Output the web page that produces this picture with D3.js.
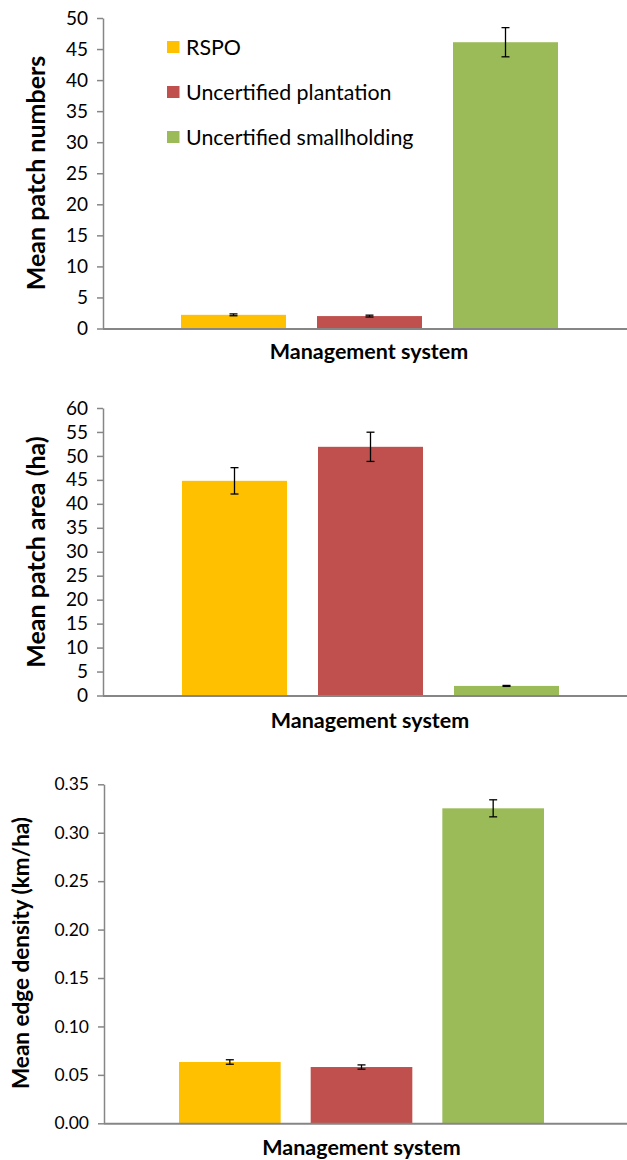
<!DOCTYPE html>
<html><head><meta charset="utf-8">
<script src="https://cdn.jsdelivr.net/npm/d3@7"></script>
<style>body{margin:0;background:#fff}svg{display:block}text{font-family:Lato,"Open Sans",sans-serif}</style>
</head><body>
<svg id="c" width="627" height="1160"></svg>
<script>
const categories = ["RSPO", "Uncertified plantation", "Uncertified smallholding"];
const colors = ["#FFC000", "#C0504D", "#9BBB59"];
const patchNumbers = [2.2, 2.0, 46.1];
const patchNumbersErr = [0.15, 0.15, 2.35];
const patchArea = [44.8, 51.9, 2.0];
const patchAreaErr = [2.75, 3.05, 0.1];
const edgeDensity = [0.0633, 0.0581, 0.3252];
const edgeDensityErr = [0.0023, 0.0022, 0.0088];
const ticks1 = [0,5,10,15,20,25,30,35,40,45,50];
const ticks2 = [0,5,10,15,20,25,30,35,40,45,50,55,60];
const ticks3 = [0,0.05,0.10,0.15,0.20,0.25,0.30,0.35];
const xTitle = "Management system";

const svg = d3.select("#c");

function panel(o){
  const g = svg.append("g");
  const x = d3.scaleBand().domain(categories).range(o.xr).paddingInner(0.228).paddingOuter(0);
  const y = d3.scaleLinear().domain(o.dom).range(o.yr);
  g.selectAll("rect.bar").data(categories).join("rect")
    .attr("x", d=>x(d)).attr("width", x.bandwidth())
    .attr("y", (d,i)=>y(o.vals[i])).attr("height",(d,i)=>y(0)-y(o.vals[i]))
    .attr("fill",(d,i)=>colors[i]);
  const eb = g.selectAll("g.eb").data(categories).join("g");
  eb.each(function(d,i){
    const cx = x(d)+x.bandwidth()/2;
    const e = d3.select(this);
    const hi = y(o.vals[i]+o.errs[i]), lo = y(o.vals[i]-o.errs[i]);
    e.append("line").attr("x1",cx).attr("x2",cx).attr("y1",hi).attr("y2",lo).attr("stroke","#000").attr("stroke-width",1.3);
    [hi,lo].forEach(yy=>e.append("line").attr("x1",cx-4).attr("x2",cx+4).attr("y1",yy).attr("y2",yy).attr("stroke","#000").attr("stroke-width",1.3));
  });
  const ya = g.append("g").attr("transform",`translate(${o.ax},0)`)
    .call(d3.axisLeft(y).tickValues(o.ticks).tickFormat(o.fmt).tickSize(6).tickSizeOuter(0).tickPadding(9));
  ya.select(".domain").attr("stroke","#868686").attr("stroke-width",1.5);
  ya.selectAll(".tick line").attr("stroke","#868686").attr("stroke-width",1.5);
  ya.selectAll(".tick text").attr("font-size",o.tfs).attr("fill","#000").attr("font-family","Lato,'Open Sans',sans-serif");
  g.append("line").attr("x1",o.ax).attr("x2",627).attr("y1",y(0)+0.5).attr("y2",y(0)+0.5)
    .attr("stroke","#868686").attr("stroke-width",2);
  g.append("text").attr("x",o.xtx).attr("y",o.xty).attr("text-anchor","middle")
    .attr("font-weight","bold").attr("font-size",21.5).attr("fill","#000").text(xTitle);
  g.append("text").attr("transform",`translate(${o.ytx},${o.yty}) rotate(-90)`).attr("text-anchor","middle")
    .attr("font-weight","bold").attr("font-size",o.yfs).attr("fill","#000").text(o.ytitle);
  return g;
}

panel({xr:[181,558], dom:[0,50], yr:[328.5,18], vals:patchNumbers, errs:patchNumbersErr, ticks:ticks1,
  fmt:d3.format("d"), ax:103, tfs:19, xtx:369, xty:359, ytx:45, yty:173, yfs:25, ytitle:"Mean patch numbers"});
panel({xr:[182,559], dom:[0,60], yr:[695.5,408], vals:patchArea, errs:patchAreaErr, ticks:ticks2,
  fmt:d3.format("d"), ax:103, tfs:19, xtx:370, xty:728, ytx:45, yty:552, yfs:25, ytitle:"Mean patch area (ha)"});
panel({xr:[179,544], dom:[0,0.35], yr:[1123.3,784.3], vals:edgeDensity, errs:edgeDensityErr, ticks:ticks3,
  fmt:d3.format(".2f"), ax:104, tfs:17.5, xtx:361.5, xty:1155, ytx:29, yty:953, yfs:22.5, ytitle:"Mean edge density (km/ha)"});

const lg = svg.append("g");
const legY = d3.scalePoint().domain(categories).range([47,137]);
categories.forEach((c,i)=>{
  lg.append("rect").attr("x",167).attr("y",legY(c)-6).attr("width",12.5).attr("height",12).attr("fill",colors[i]);
  lg.append("text").attr("x",186).attr("y",legY(c)+7.7).attr("font-size",21.4).attr("fill","#000").text(c);
});
</script>
</body></html>
